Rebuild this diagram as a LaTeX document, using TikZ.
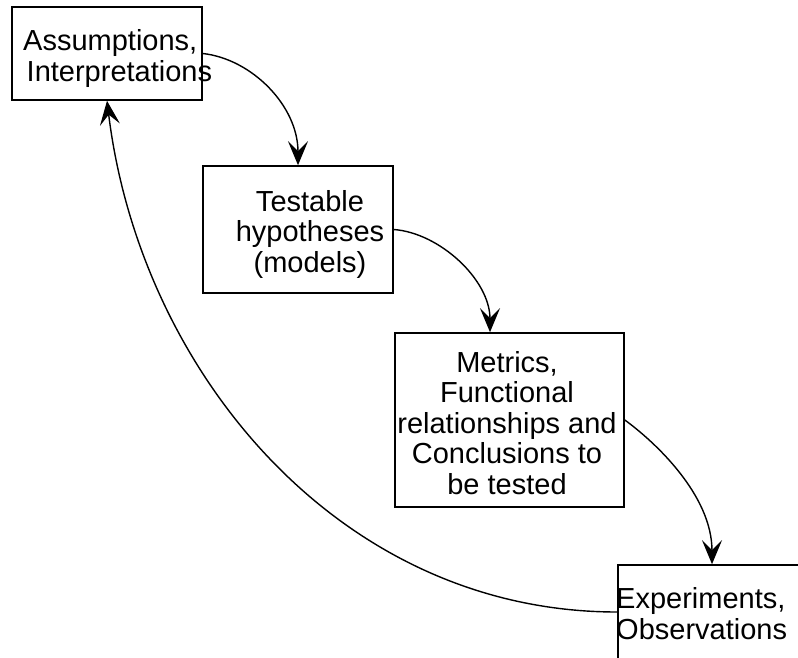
\documentclass[tikz,border=0pt]{standalone}
\usepackage{fontspec}
\setmainfont{Liberation Sans}
\usetikzlibrary{arrows.meta}
\begin{document}
\begin{tikzpicture}[x=1pt,y=-1pt,
  box/.style={draw,line width=1.6pt,rectangle,inner sep=0pt},
  lbl/.style={inner sep=0pt,font=\fontsize{29}{30.5}\selectfont},
  conn/.style={line width=1.4pt,-{Stealth[length=24pt,width=20pt,inset=10pt]}}]
\useasboundingbox (0,0) rectangle (798,658);
\node[box,minimum width=190pt,minimum height=93pt] (A) at (107,53.5) {};
\node[box,minimum width=190pt,minimum height=127pt] (B) at (298,229.5) {};
\node[box,minimum width=229pt,minimum height=174pt] (C) at (509.5,420) {};
\node[box,minimum width=188pt,minimum height=94pt] (D) at (712,612) {};
\node[lbl,align=left,anchor=base west] (tA) at (23,81.5) {Assumptions,\\\hspace*{3.5pt}Interpretations};
\node[lbl,align=center,anchor=base] (tB) at (310,272) {Testable\\hypotheses\\(models)};
\node[lbl,align=center,anchor=base] (tC) at (507,494) {Metrics,\\Functional\\relationships and\\Conclusions to\\be tested};
\node[lbl,align=left,anchor=base west] (tD) at (616,639) {Experiments,\\Observations};
\draw[conn] (A.east) .. controls (252,59) and (298,106) .. (B.north);
\draw[conn] (B.east) .. controls (440,233) and (490,280) .. ([xshift=-19.5pt]C.north);
\draw[conn] (C.east) .. controls (655,442) and (712,495) .. (D.north);
\draw[conn] (D.west) .. controls (338,612) and (140,370) .. (A.south);
\end{tikzpicture}
\end{document}
